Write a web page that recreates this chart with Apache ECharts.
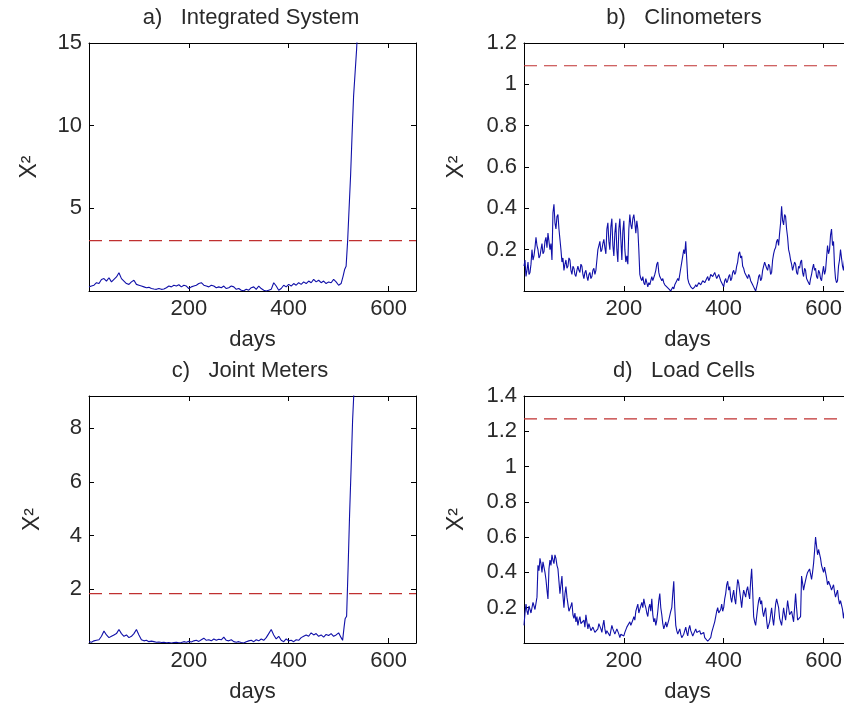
<!DOCTYPE html>
<html>
<head>
<meta charset="utf-8">
<script src="https://cdn.jsdelivr.net/npm/echarts@6/dist/echarts.min.js"></script>
<style>
html,body{margin:0;padding:0;background:#fff;}
#chart{width:844px;height:706px;}
</style>
</head>
<body>
<div id="chart"></div>
<script>
// ---- data ----
const titles = ['a)   Integrated System', 'b)   Clinometers', 'c)   Joint Meters', 'd)   Load Cells'];
const xTicks = [200, 400, 600];
const yMax = [15, 1.2, 9.2, 1.4];
const yInterval = [5, 0.2, 2, 0.2];
const thresholds = [3.05, 1.09, 1.84, 1.27];

const daysA = [0,5,10,15,20,25,30,35,40,45,50,55,60,65,70,75,80,85,90,95,100,105,110,115,120,125,130,135,140,145,150,155,160,165,170,175,180,185,190,195,200,205,210,215,220,225,230,235,240,245,250,255,260,265,270,275,280,285,290,295,300,305,310,315,320,325,330,335,340,345,350,355,360,365,370,375,380,385,390,395,400,405,410,415,420,425,430,435,440,445,450,455,460,465,470,475,480,485,490,495,500,505,509,512,515,518,521,524,527,530,533,536,539];
const chiA = [0.25,0.3,0.35,0.5,0.45,0.7,0.75,0.6,0.8,0.55,0.7,0.85,1.1,0.75,0.6,0.45,0.4,0.55,0.65,0.4,0.35,0.3,0.25,0.2,0.22,0.15,0.12,0.1,0.15,0.1,0.12,0.2,0.3,0.25,0.35,0.3,0.38,0.25,0.35,0.3,0.15,0.25,0.3,0.35,0.45,0.5,0.35,0.3,0.25,0.35,0.3,0.2,0.25,0.2,0.3,0.15,0.2,0.3,0.25,0.1,0.15,0.05,0.02,0.1,0.05,0.2,0.25,0.1,0.3,0.15,0.05,0.0,0.05,0.1,0.5,0.3,0.05,0.15,0.35,0.25,0.4,0.3,0.45,0.35,0.5,0.4,0.55,0.45,0.6,0.5,0.7,0.55,0.65,0.5,0.6,0.45,0.55,0.5,0.7,0.55,0.35,0.45,0.9,1.3,1.5,3.0,5.0,7.0,9.5,11.8,13.2,14.6,16.5];

const daysC = [0,5,10,15,20,25,30,35,40,45,50,55,60,65,70,75,80,85,90,95,100,105,110,115,120,125,130,135,140,145,150,155,160,165,170,175,180,185,190,195,200,205,210,215,220,225,230,235,240,245,250,255,260,265,270,275,280,285,290,295,300,305,310,315,320,325,330,335,340,345,350,355,360,365,370,375,380,385,390,395,400,405,410,415,420,425,430,435,440,445,450,455,460,465,470,475,480,485,490,495,500,505,508,511,513,516,519,522,525,528,531];
const chiC = [0.05,0.03,0.08,0.1,0.12,0.25,0.45,0.3,0.2,0.25,0.3,0.35,0.5,0.35,0.25,0.3,0.2,0.25,0.35,0.5,0.3,0.12,0.08,0.1,0.05,0.07,0.05,0.03,0.04,0.02,0.03,0.01,0.02,0.0,0.02,0.03,0.01,0.02,0.05,0.03,0.06,0.04,0.08,0.1,0.06,0.12,0.18,0.1,0.12,0.08,0.15,0.1,0.14,0.12,0.22,0.1,0.08,0.12,0.05,0.03,0.05,0.02,0.0,0.05,0.08,0.1,0.05,0.12,0.08,0.15,0.1,0.2,0.35,0.5,0.3,0.15,0.25,0.1,0.05,0.15,0.08,0.1,0.05,0.12,0.1,0.2,0.25,0.3,0.25,0.38,0.3,0.35,0.25,0.3,0.22,0.32,0.28,0.35,0.25,0.3,0.38,0.2,0.1,0.6,0.9,1.0,2.8,4.8,6.5,8.3,9.5];

// Clinometers and Load Cells: one value every 2 days, from day 0
const dayStepBD = 2;
const chiB = [
  0.12,0.15,0.07,0.1,0.14,0.08,0.09,0.13,0.2,0.15,
  0.17,0.21,0.26,0.22,0.2,0.16,0.17,0.2,0.23,0.18,
  0.19,0.24,0.26,0.21,0.28,0.24,0.2,0.23,0.15,0.38,
  0.42,0.33,0.3,0.36,0.37,0.3,0.25,0.2,0.14,0.16,
  0.1,0.13,0.15,0.11,0.12,0.16,0.15,0.1,0.08,0.12,
  0.11,0.08,0.07,0.1,0.12,0.1,0.09,0.13,0.12,0.08,
  0.06,0.09,0.1,0.07,0.05,0.08,0.09,0.06,0.07,0.1,
  0.11,0.08,0.1,0.15,0.2,0.22,0.24,0.19,0.2,0.23,
  0.25,0.21,0.18,0.3,0.33,0.24,0.2,0.31,0.35,0.22,
  0.17,0.28,0.33,0.2,0.14,0.3,0.35,0.25,0.15,0.29,
  0.34,0.2,0.14,0.17,0.13,0.3,0.37,0.32,0.3,0.35,
  0.37,0.33,0.28,0.34,0.3,0.2,0.08,0.06,0.05,0.07,
  0.04,0.03,0.06,0.04,0.02,0.04,0.03,0.05,0.07,0.05,
  0.05,0.08,0.1,0.13,0.14,0.09,0.07,0.06,0.05,0.06,
  0.04,0.03,0.03,0.02,0.02,0.01,0.01,0.0,0.0,0.02,
  0.01,0.03,0.04,0.05,0.06,0.05,0.08,0.11,0.14,0.17,
  0.2,0.18,0.24,0.15,0.06,0.04,0.03,0.02,0.02,0.01,
  0.01,0.02,0.03,0.02,0.02,0.04,0.04,0.03,0.03,0.05,
  0.05,0.04,0.04,0.06,0.07,0.05,0.06,0.08,0.08,0.07,
  0.07,0.09,0.09,0.06,0.06,0.08,0.08,0.05,0.05,0.03,
  0.02,0.05,0.06,0.04,0.05,0.07,0.08,0.05,0.06,0.09,
  0.1,0.08,0.09,0.12,0.14,0.18,0.19,0.16,0.17,0.12,
  0.11,0.09,0.08,0.07,0.06,0.08,0.07,0.05,0.04,0.03,
  0.02,0.01,0.0,0.02,0.04,0.07,0.08,0.05,0.06,0.1,
  0.12,0.14,0.14,0.11,0.1,0.13,0.12,0.08,0.09,0.15,
  0.18,0.2,0.21,0.24,0.25,0.22,0.28,0.33,0.41,0.34,
  0.32,0.37,0.36,0.3,0.26,0.2,0.18,0.15,0.13,0.1,
  0.1,0.14,0.13,0.09,0.08,0.12,0.11,0.14,0.15,0.09,
  0.07,0.11,0.1,0.06,0.05,0.04,0.03,0.06,0.08,0.11,
  0.13,0.1,0.11,0.07,0.06,0.1,0.09,0.06,0.05,0.09,
  0.12,0.08,0.1,0.16,0.22,0.18,0.2,0.27,0.3,0.22,
  0.24,0.12,0.06,0.04,0.05,0.12,0.15,0.2,0.2,0.12,
  0.1,0.15,0.14,0.09,0.1,0.13,0.12
];
const chiD = [
  0.1,0.17,0.22,0.18,0.16,0.21,0.2,0.17,0.18,0.23,
  0.22,0.19,0.2,0.26,0.44,0.41,0.48,0.45,0.4,0.46,
  0.43,0.4,0.36,0.3,0.25,0.42,0.47,0.44,0.5,0.47,
  0.45,0.5,0.48,0.44,0.42,0.35,0.28,0.33,0.38,0.27,
  0.2,0.28,0.32,0.26,0.22,0.18,0.17,0.21,0.23,0.16,
  0.14,0.17,0.12,0.15,0.1,0.13,0.15,0.11,0.1,0.12,
  0.13,0.09,0.16,0.12,0.08,0.11,0.1,0.07,0.06,0.09,
  0.08,0.06,0.05,0.07,0.08,0.11,0.12,0.08,0.06,0.1,
  0.13,0.08,0.05,0.07,0.08,0.06,0.04,0.07,0.1,0.08,
  0.07,0.05,0.04,0.08,0.09,0.05,0.03,0.05,0.06,0.04,
  0.04,0.06,0.07,0.09,0.1,0.08,0.12,0.1,0.09,0.13,
  0.15,0.13,0.18,0.2,0.22,0.17,0.16,0.21,0.23,0.2,
  0.25,0.22,0.2,0.17,0.15,0.2,0.22,0.18,0.25,0.16,
  0.12,0.14,0.1,0.13,0.18,0.24,0.28,0.2,0.16,0.11,
  0.08,0.1,0.12,0.09,0.1,0.13,0.14,0.18,0.2,0.28,
  0.35,0.2,0.1,0.07,0.05,0.06,0.08,0.05,0.03,0.04,
  0.05,0.07,0.09,0.06,0.04,0.08,0.1,0.07,0.06,0.04,
  0.03,0.05,0.08,0.06,0.05,0.06,0.07,0.05,0.04,0.05,
  0.06,0.03,0.02,0.02,0.01,0.01,0.0,0.03,0.06,0.08,
  0.1,0.12,0.15,0.18,0.2,0.17,0.16,0.19,0.22,0.18,
  0.2,0.25,0.28,0.33,0.35,0.3,0.32,0.26,0.23,0.27,
  0.3,0.25,0.22,0.3,0.36,0.34,0.33,0.25,0.2,0.26,
  0.3,0.28,0.26,0.3,0.32,0.28,0.25,0.35,0.42,0.3,
  0.15,0.12,0.1,0.15,0.2,0.24,0.26,0.22,0.24,0.18,
  0.15,0.18,0.2,0.13,0.08,0.1,0.12,0.16,0.2,0.14,
  0.1,0.16,0.22,0.25,0.26,0.2,0.14,0.12,0.1,0.15,
  0.2,0.16,0.13,0.18,0.24,0.2,0.16,0.17,0.18,0.15,
  0.12,0.2,0.28,0.2,0.13,0.12,0.12,0.15,0.38,0.34,
  0.3,0.33,0.34,0.38,0.4,0.41,0.42,0.39,0.36,0.4,
  0.45,0.52,0.6,0.55,0.5,0.53,0.52,0.48,0.44,0.42,
  0.4,0.43,0.42,0.37,0.33,0.35,0.36,0.32,0.3,0.31,
  0.33,0.29,0.26,0.28,0.3,0.25,0.22,0.24,0.25,0.19,
  0.14,0.18,0.2,0.19,0.18,0.17,0.16
];

// ---- layout ----
const FONT = '"Liberation Sans", Arial, sans-serif';
const TXT = '#2a2a2a';
const FS = 22;
const xMin = 0, xMax = 655;
const grids = [
  {left: 89, top: 43, width: 327, height: 248},
  {left: 524, top: 43, width: 327, height: 248},
  {left: 89, top: 396, width: 327, height: 247},
  {left: 524, top: 396, width: 327, height: 247}
];
const yNameGap = [48, 56, 45, 56];
const titlePos = [[251, 18], [684, 18], [250, 371], [684, 371]];

const panels = [
  {days: daysA, vals: chiA},
  {days: chiB.map((_, i) => i * dayStepBD), vals: chiB},
  {days: daysC, vals: chiC},
  {days: chiD.map((_, i) => i * dayStepBD), vals: chiD}
];

const xAxes = [], yAxes = [], series = [], graphics = [];
const lineAxis = {show: true, onZero: false, lineStyle: {color: '#000', width: 1}};
const tickIn = {show: true, inside: true, length: 5, lineStyle: {color: '#000', width: 1}};

grids.forEach((g, i) => {
  xAxes.push({
    type: 'value', gridIndex: i, position: 'bottom', min: xMin, max: xMax, interval: 200,
    axisLine: lineAxis, axisTick: tickIn, splitLine: {show: false},
    axisLabel: {color: TXT, fontSize: FS, fontFamily: FONT, margin: 7,
      formatter: v => xTicks.indexOf(Math.round(v)) >= 0 && Math.abs(v - Math.round(v)) < 1e-6 ? String(Math.round(v)) : ''},
    name: 'days', nameLocation: 'middle', nameGap: 38,
    nameTextStyle: {color: TXT, fontSize: FS, fontFamily: FONT}
  });
  xAxes.push({
    type: 'value', gridIndex: i, position: 'top', min: xMin, max: xMax, interval: 200,
    axisLine: lineAxis, axisTick: tickIn, axisLabel: {show: false}, splitLine: {show: false}
  });
  const iv = yInterval[i];
  const yfmt = v => {
    const k = v / iv;
    if (v < 1e-9 || Math.abs(k - Math.round(k)) > 1e-6) return '';
    return String(+v.toFixed(2));
  };
  yAxes.push({
    type: 'value', gridIndex: i, position: 'left', min: 0, max: yMax[i], interval: iv,
    axisLine: lineAxis, axisTick: tickIn, splitLine: {show: false},
    axisLabel: {color: TXT, fontSize: FS, fontFamily: FONT, margin: 7, formatter: yfmt},
    name: 'X\u00B2', nameLocation: 'middle', nameGap: yNameGap[i], nameRotate: 90,
    nameTextStyle: {color: TXT, fontSize: 23, fontFamily: FONT}
  });
  yAxes.push({
    type: 'value', gridIndex: i, position: 'right', min: 0, max: yMax[i], interval: iv,
    axisLine: lineAxis, axisTick: tickIn, axisLabel: {show: false}, splitLine: {show: false}
  });
  const p = panels[i];
  series.push({
    type: 'line', xAxisIndex: 2 * i, yAxisIndex: 2 * i,
    data: p.days.map((d, j) => [d, p.vals[j]]),
    showSymbol: false, symbol: 'none', clip: true, animation: false,
    lineStyle: {color: '#1010a8', width: 1.1}, z: 3
  });
  series.push({
    type: 'line', xAxisIndex: 2 * i, yAxisIndex: 2 * i,
    data: [[xMin, thresholds[i]], [xMax, thresholds[i]]],
    showSymbol: false, symbol: 'none', animation: false,
    lineStyle: {color: '#c03030', width: 1.2, type: [13, 7]}, z: 2
  });
  graphics.push({
    type: 'text', x: titlePos[i][0], y: titlePos[i][1],
    style: {text: titles[i], fill: TXT, font: 'normal ' + FS + 'px ' + FONT, textAlign: 'center', textVerticalAlign: 'middle'}
  });
});

const chart = echarts.init(document.getElementById('chart'), null, {renderer: 'canvas'});
chart.setOption({
  backgroundColor: '#fff',
  animation: false,
  grid: grids.map(g => Object.assign({containLabel: false, outerBoundsMode: 'none', show: false}, g)),
  xAxis: xAxes,
  yAxis: yAxes,
  series: series,
  graphic: graphics
});
</script>
</body>
</html>
